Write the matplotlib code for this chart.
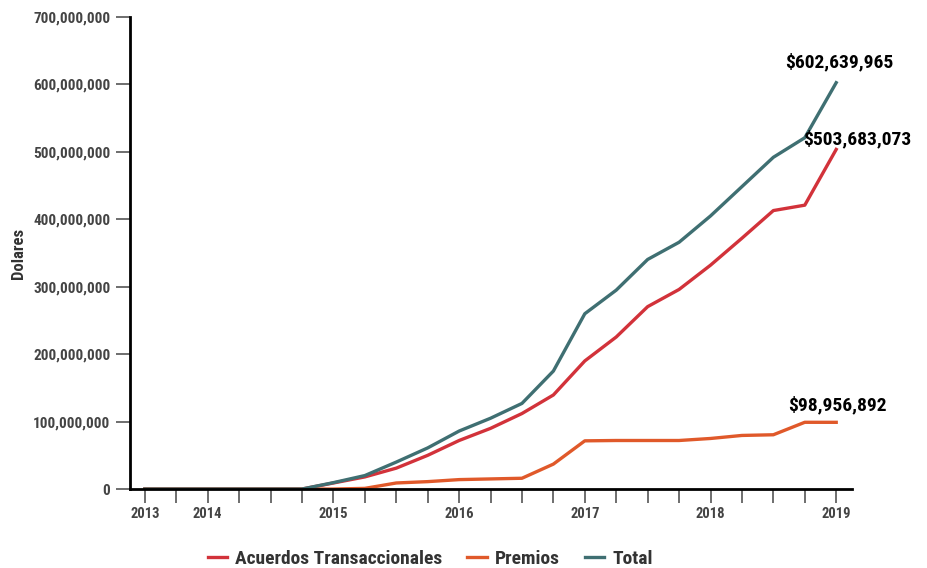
import matplotlib
matplotlib.use("Agg")
import matplotlib.pyplot as plt
from matplotlib.ticker import FuncFormatter

plt.rcParams['font.family'] = ['Roboto Condensed', 'DejaVu Sans']

# 23 periods on a categorical axis, year labels only at some of them
periods = list(range(23))
year_pos = [0, 2, 6, 10, 14, 18, 22]
year_labels = ["2013", "2014", "2015", "2016", "2017", "2018", "2019"]

acuerdos = [0, 0, 0, 0, 0, 0, 9e6, 18e6, 31e6, 50e6, 72e6, 90e6, 112e6,
            139.5e6, 190e6, 225.5e6, 270.5e6, 296e6, 332e6, 372e6, 413e6,
            421e6, 503683073]
premios = [0, 0, 0, 0, 0, 0, 0, 1e6, 9e6, 11e6, 14e6, 15e6, 16e6,
           37e6, 71.5e6, 72e6, 72e6, 72e6, 75e6, 79.5e6, 80.5e6,
           99e6, 98956892]
total = [0, 0, 0, 0, 0, 0, 9.5e6, 20e6, 40e6, 61e6, 86e6, 105e6, 127e6,
         175e6, 260e6, 295e6, 340.5e6, 366e6, 405e6, 448.5e6, 492e6,
         521e6, 602639965]

c_acu = '#d2323a'
c_pre = '#e0592a'
c_tot = '#3f6f72'

fig = plt.figure(figsize=(9.27, 5.68), dpi=100)
ax = fig.add_axes([0.140, 0.139, 0.779, 0.831])

ax.plot(periods, acuerdos, color=c_acu, lw=2.4, label='Acuerdos Transaccionales')
ax.plot(periods, premios, color=c_pre, lw=2.4, label='Premios')
ax.plot(periods, total, color=c_tot, lw=2.4, label='Total')

ax.set_xlim(-0.48, 22.5)
ax.set_ylim(0, 700e6)
ax.set_yticks(range(0, 700000001, 100000000))
ax.yaxis.set_major_formatter(FuncFormatter(lambda v, p: f"{int(v):,}"))
ax.set_xticks(periods)
ax.set_xticklabels([year_labels[year_pos.index(i)] if i in year_pos else '' for i in periods])

for s in ['top', 'right']:
    ax.spines[s].set_visible(False)
for s in ['left', 'bottom']:
    ax.spines[s].set_linewidth(2)
    ax.spines[s].set_color('black')

ax.tick_params(axis='both', colors='#555555', length=10, width=1.2,
               labelcolor='#444444')
ax.tick_params(axis='y', labelsize=11, pad=4)
ax.tick_params(axis='x', labelsize=10.5, pad=3)
for lbl in ax.get_xticklabels() + ax.get_yticklabels():
    lbl.set_fontweight('bold')

ax.set_ylabel('Dolares', fontsize=12, fontweight='bold', color='#333333', labelpad=5)

ax.annotate(f"${total[-1]:,.0f}", (periods[-1], total[-1]), xytext=(2, 8),
            textcoords='offset points', ha='center', va='bottom',
            fontsize=14, fontweight='bold')
ax.annotate(f"${acuerdos[-1]:,.0f}", (periods[-1], acuerdos[-1]), xytext=(15, 1),
            textcoords='offset points', ha='center', va='bottom',
            fontsize=14, fontweight='bold')
ax.annotate(f"${premios[-1]:,.0f}", (periods[-1], premios[-1]), xytext=(1, 6),
            textcoords='offset points', ha='center', va='bottom',
            fontsize=14, fontweight='bold')

leg = fig.legend(loc='center', bbox_to_anchor=(0.464, 0.016), ncol=3, frameon=False,
                 handlelength=1.0, columnspacing=1.3, handletextpad=0.4,
                 prop={'weight': 'bold', 'size': 14})
for t in leg.get_texts():
    t.set_color('#333333')

fig.savefig('out.png', dpi=100)
